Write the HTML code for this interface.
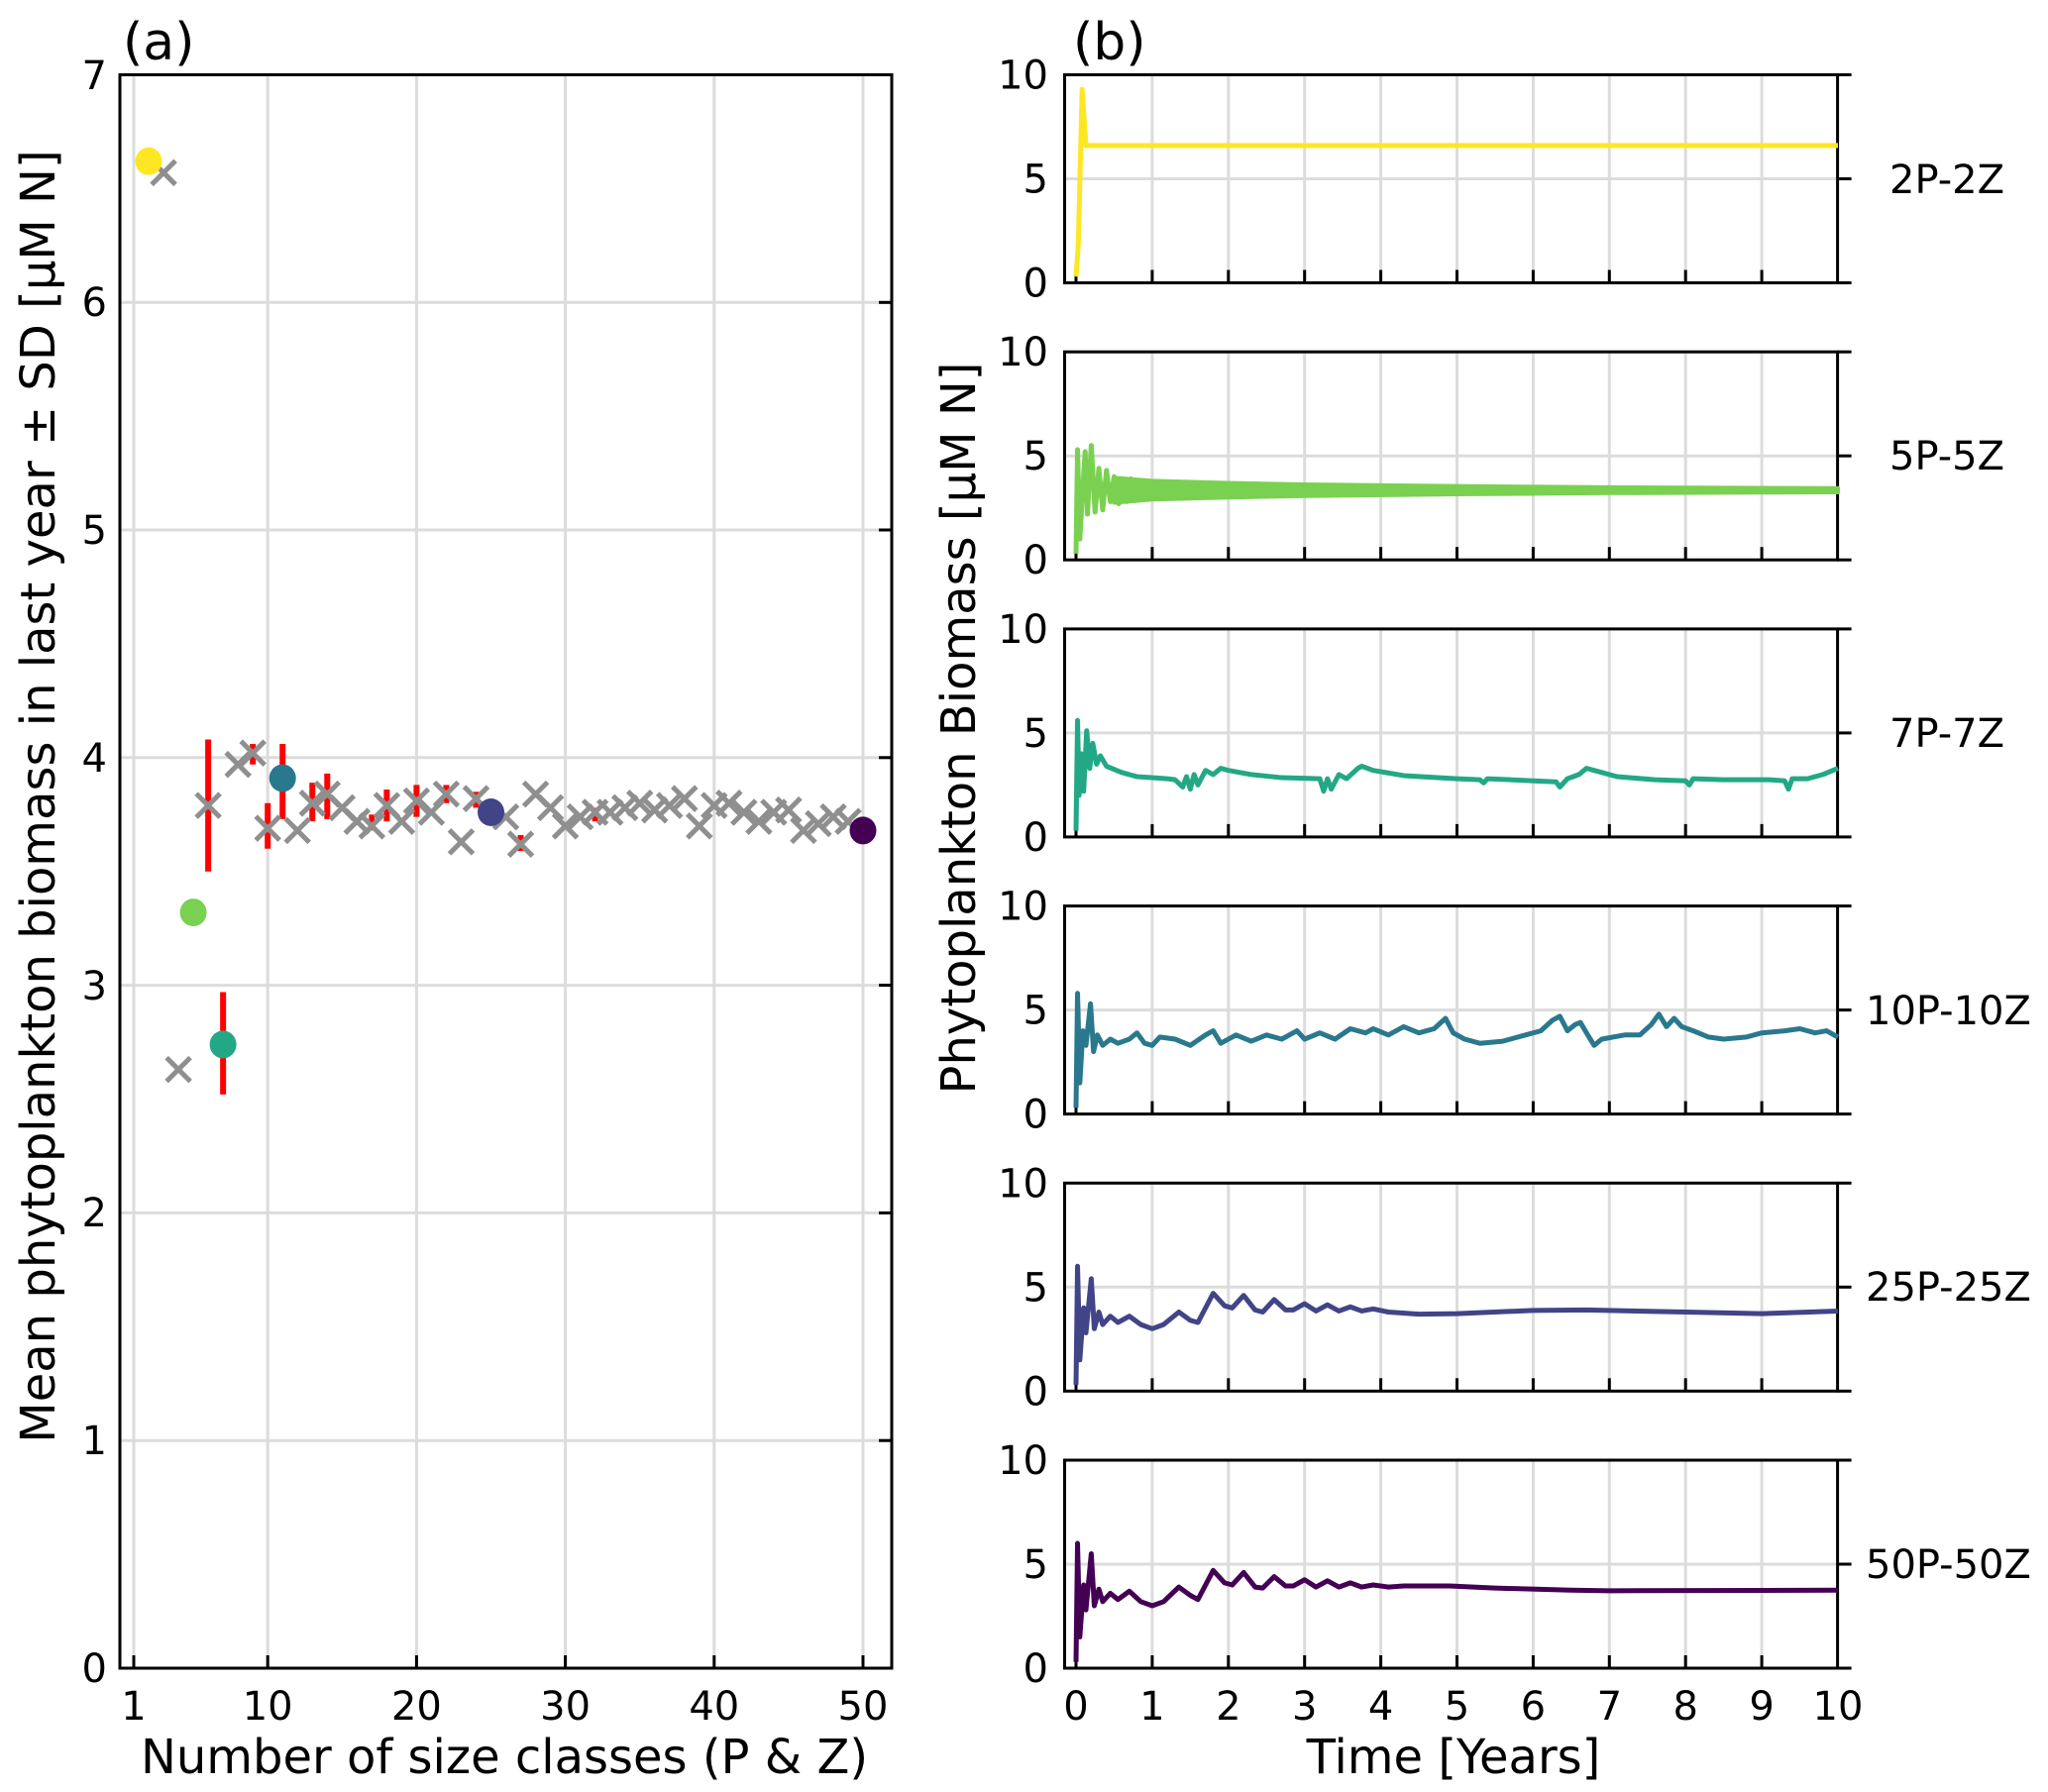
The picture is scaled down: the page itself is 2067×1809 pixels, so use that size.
<!DOCTYPE html>
<html><head><meta charset="utf-8"><style>
html,body{margin:0;padding:0;background:#fff}
svg{display:block}
text{font-family:"DejaVu Sans","Liberation Sans",sans-serif;fill:#000}
.n{vector-effect:non-scaling-stroke;fill:none;stroke-linejoin:round}
</style></head><body>
<svg width="2067" height="1809" viewBox="0 0 2067 1809" xmlns="http://www.w3.org/2000/svg" xmlns:xlink="http://www.w3.org/1999/xlink">
<defs>
<path id="xm" d="M-12 -12L12 12M-12 12L12 -12"/>
<g id="frame">
<g stroke="#dcdcdc" stroke-width="3">
<line x1="1162.9" y1="0" x2="1162.9" y2="210"/><line x1="1239.8" y1="0" x2="1239.8" y2="210"/><line x1="1316.7" y1="0" x2="1316.7" y2="210"/><line x1="1393.6" y1="0" x2="1393.6" y2="210"/><line x1="1470.5" y1="0" x2="1470.5" y2="210"/><line x1="1547.4" y1="0" x2="1547.4" y2="210"/><line x1="1624.3" y1="0" x2="1624.3" y2="210"/><line x1="1701.2" y1="0" x2="1701.2" y2="210"/><line x1="1778.1" y1="0" x2="1778.1" y2="210"/>
<line x1="1074.5" y1="105" x2="1854.6" y2="105"/>
</g>
<g stroke="#000" stroke-width="3">
<line x1="1086" y1="210" x2="1086" y2="197"/><line x1="1162.9" y1="210" x2="1162.9" y2="197"/><line x1="1239.8" y1="210" x2="1239.8" y2="197"/><line x1="1316.7" y1="210" x2="1316.7" y2="197"/><line x1="1393.6" y1="210" x2="1393.6" y2="197"/><line x1="1470.5" y1="210" x2="1470.5" y2="197"/><line x1="1547.4" y1="210" x2="1547.4" y2="197"/><line x1="1624.3" y1="210" x2="1624.3" y2="197"/><line x1="1701.2" y1="210" x2="1701.2" y2="197"/><line x1="1778.1" y1="210" x2="1778.1" y2="197"/>
<line x1="1854.6" y1="0" x2="1868.6" y2="0"/><line x1="1854.6" y1="105" x2="1868.6" y2="105"/><line x1="1854.6" y1="210" x2="1868.6" y2="210"/>
</g>
<text x="1058" y="14" font-size="40" text-anchor="end">10</text>
<text x="1058" y="119" font-size="40" text-anchor="end">5</text>
<text x="1058" y="224" font-size="40" text-anchor="end">0</text>
<rect x="1074.5" y="0" width="780.1" height="210" fill="none" stroke="#000" stroke-width="3"/>
</g>
</defs>

<!-- Panel a grid -->
<g stroke="#dcdcdc" stroke-width="3">
<line x1="135" y1="75.5" x2="135" y2="1684"/><line x1="270.2" y1="75.5" x2="270.2" y2="1684"/><line x1="420.4" y1="75.5" x2="420.4" y2="1684"/><line x1="570.6" y1="75.5" x2="570.6" y2="1684"/><line x1="720.8" y1="75.5" x2="720.8" y2="1684"/><line x1="871" y1="75.5" x2="871" y2="1684"/>
<line x1="121" y1="1454.2" x2="900" y2="1454.2"/><line x1="121" y1="1224.4" x2="900" y2="1224.4"/><line x1="121" y1="994.6" x2="900" y2="994.6"/><line x1="121" y1="764.8" x2="900" y2="764.8"/><line x1="121" y1="535" x2="900" y2="535"/><line x1="121" y1="305.3" x2="900" y2="305.3"/>
</g>
<g stroke="#000" stroke-width="3">
<line x1="135" y1="1684" x2="135" y2="1671"/><line x1="270.2" y1="1684" x2="270.2" y2="1671"/><line x1="420.4" y1="1684" x2="420.4" y2="1671"/><line x1="570.6" y1="1684" x2="570.6" y2="1671"/><line x1="720.8" y1="1684" x2="720.8" y2="1671"/><line x1="871" y1="1684" x2="871" y2="1671"/>
<line x1="900" y1="1454.2" x2="887" y2="1454.2"/><line x1="900" y1="1224.4" x2="887" y2="1224.4"/><line x1="900" y1="994.6" x2="887" y2="994.6"/><line x1="900" y1="764.8" x2="887" y2="764.8"/><line x1="900" y1="535" x2="887" y2="535"/><line x1="900" y1="305.3" x2="887" y2="305.3"/>
</g>
<g font-size="40" text-anchor="end">
<text x="108" y="1698">0</text><text x="108" y="1468">1</text><text x="108" y="1238">2</text><text x="108" y="1009">3</text><text x="108" y="779">4</text><text x="108" y="549">5</text><text x="108" y="319">6</text><text x="108" y="90">7</text>
</g>
<g font-size="40" text-anchor="middle">
<text x="135" y="1736">1</text><text x="270.2" y="1736">10</text><text x="420.4" y="1736">20</text><text x="570.6" y="1736">30</text><text x="720.8" y="1736">40</text><text x="871" y="1736">50</text>
</g>

<!-- Panel a data: error bars -->
<g transform="translate(120 1684) scale(15.02 -229.79)">
<g stroke="#ff0000" stroke-width="6">
<line class="n" x1="6" y1="3.50" x2="6" y2="4.08"/><line class="n" x1="7" y1="2.52" x2="7" y2="2.97"/><line class="n" x1="9" y1="3.97" x2="9" y2="4.06"/><line class="n" x1="10" y1="3.60" x2="10" y2="3.80"/><line class="n" x1="11" y1="3.73" x2="11" y2="4.06"/><line class="n" x1="13" y1="3.72" x2="13" y2="3.89"/><line class="n" x1="14" y1="3.73" x2="14" y2="3.93"/><line class="n" x1="17" y1="3.68" x2="17" y2="3.75"/><line class="n" x1="18" y1="3.72" x2="18" y2="3.86"/><line class="n" x1="20" y1="3.74" x2="20" y2="3.88"/><line class="n" x1="22" y1="3.80" x2="22" y2="3.88"/><line class="n" x1="24" y1="3.78" x2="24" y2="3.85"/><line class="n" x1="27" y1="3.59" x2="27" y2="3.66"/><line class="n" x1="32" y1="3.72" x2="32" y2="3.78"/>
</g>
</g>
<!-- X markers (pixel coords) -->
<g stroke="#8f8f8f" stroke-width="5" fill="none">
<use href="#xm" xlink:href="#xm" x="165.1" y="174.3"/>
<use href="#xm" xlink:href="#xm" x="180.1" y="1079.6"/>
<use href="#xm" xlink:href="#xm" x="210.1" y="813.1"/>
<use href="#xm" xlink:href="#xm" x="240.2" y="771.7"/>
<use href="#xm" xlink:href="#xm" x="255.2" y="760.2"/>
<use href="#xm" xlink:href="#xm" x="270.2" y="836.1"/>
<use href="#xm" xlink:href="#xm" x="300.2" y="838.4"/>
<use href="#xm" xlink:href="#xm" x="315.3" y="810.8"/>
<use href="#xm" xlink:href="#xm" x="330.3" y="801.6"/>
<use href="#xm" xlink:href="#xm" x="345.3" y="815.4"/>
<use href="#xm" xlink:href="#xm" x="360.3" y="829.2"/>
<use href="#xm" xlink:href="#xm" x="375.3" y="833.8"/>
<use href="#xm" xlink:href="#xm" x="390.4" y="813.1"/>
<use href="#xm" xlink:href="#xm" x="405.4" y="829.2"/>
<use href="#xm" xlink:href="#xm" x="420.4" y="808.5"/>
<use href="#xm" xlink:href="#xm" x="435.4" y="820.0"/>
<use href="#xm" xlink:href="#xm" x="450.4" y="801.6"/>
<use href="#xm" xlink:href="#xm" x="465.5" y="849.9"/>
<use href="#xm" xlink:href="#xm" x="480.5" y="806.2"/>
<use href="#xm" xlink:href="#xm" x="510.5" y="824.6"/>
<use href="#xm" xlink:href="#xm" x="525.5" y="852.2"/>
<use href="#xm" xlink:href="#xm" x="540.6" y="801.6"/>
<use href="#xm" xlink:href="#xm" x="555.6" y="815.4"/>
<use href="#xm" xlink:href="#xm" x="570.6" y="833.8"/>
<use href="#xm" xlink:href="#xm" x="585.6" y="824.6"/>
<use href="#xm" xlink:href="#xm" x="600.6" y="820.0"/>
<use href="#xm" xlink:href="#xm" x="615.7" y="820.0"/>
<use href="#xm" xlink:href="#xm" x="630.7" y="815.4"/>
<use href="#xm" xlink:href="#xm" x="645.7" y="810.8"/>
<use href="#xm" xlink:href="#xm" x="660.7" y="817.7"/>
<use href="#xm" xlink:href="#xm" x="675.7" y="813.1"/>
<use href="#xm" xlink:href="#xm" x="690.8" y="806.2"/>
<use href="#xm" xlink:href="#xm" x="705.8" y="833.8"/>
<use href="#xm" xlink:href="#xm" x="720.8" y="813.1"/>
<use href="#xm" xlink:href="#xm" x="735.8" y="810.8"/>
<use href="#xm" xlink:href="#xm" x="750.8" y="820.0"/>
<use href="#xm" xlink:href="#xm" x="765.9" y="829.2"/>
<use href="#xm" xlink:href="#xm" x="780.9" y="820.0"/>
<use href="#xm" xlink:href="#xm" x="795.9" y="817.7"/>
<use href="#xm" xlink:href="#xm" x="810.9" y="838.4"/>
<use href="#xm" xlink:href="#xm" x="825.9" y="831.5"/>
<use href="#xm" xlink:href="#xm" x="841.0" y="824.6"/>
<use href="#xm" xlink:href="#xm" x="856.0" y="829.2"/>
</g>
<g>
<ellipse cx="150.0" cy="162.8" rx="13.5" ry="14" fill="#fde725"/>
<ellipse cx="195.1" cy="921.1" rx="13.5" ry="14" fill="#7ad151"/>
<ellipse cx="225.1" cy="1054.4" rx="13.5" ry="14" fill="#22a884"/>
<ellipse cx="285.2" cy="785.5" rx="13.5" ry="14" fill="#2a788e"/>
<ellipse cx="495.5" cy="820.0" rx="13.5" ry="14" fill="#414487"/>
<ellipse cx="871.0" cy="838.4" rx="13.5" ry="14" fill="#440154"/>
</g>
<rect x="121" y="75.5" width="779" height="1608.5" fill="none" stroke="#000" stroke-width="3"/>

<!-- Panel b frames -->
<use xlink:href="#frame" href="#frame" x="0" y="75.5"/>
<use xlink:href="#frame" href="#frame" x="0" y="355.2"/>
<use xlink:href="#frame" href="#frame" x="0" y="634.9"/>
<use xlink:href="#frame" href="#frame" x="0" y="914.6"/>
<use xlink:href="#frame" href="#frame" x="0" y="1194.3"/>
<use xlink:href="#frame" href="#frame" x="0" y="1474"/>
<g font-size="40">
<text x="1907" y="195">2P-2Z</text><text x="1907" y="474">5P-5Z</text><text x="1907" y="754">7P-7Z</text><text x="1883" y="1034">10P-10Z</text><text x="1883" y="1313">25P-25Z</text><text x="1883" y="1593">50P-50Z</text>
</g>
<g font-size="40" text-anchor="middle">
<text x="1086" y="1736">0</text><text x="1162.9" y="1736">1</text><text x="1239.8" y="1736">2</text><text x="1316.7" y="1736">3</text><text x="1393.6" y="1736">4</text><text x="1470.5" y="1736">5</text><text x="1547.4" y="1736">6</text><text x="1624.3" y="1736">7</text><text x="1701.2" y="1736">8</text><text x="1778.1" y="1736">9</text><text x="1855" y="1736">10</text>
</g>

<!-- Panel b series -->
<g transform="translate(1086 285.5) scale(76.9 -21)">
<polyline class="n" stroke="#fde725" stroke-width="5" points="0,0.3 0.03,1.8 0.08,9.3 0.13,6.6 10,6.6"/>
</g>
<g transform="translate(1086 565.2) scale(76.9 -21)">
<polygon class="n" style="fill:#7ad151" stroke="#7ad151" stroke-width="4" points="0.5,3.95 1,3.8 2,3.7 3,3.63 5,3.55 7,3.49 10,3.45 10,3.25 7,3.21 5,3.15 3,3.07 2,3.0 1,2.9 0.5,2.75"/>
<polyline class="n" stroke="#7ad151" stroke-width="5" points="0,0.3 0.02,5.3 0.05,1.0 0.09,3.5 0.12,5.2 0.15,2.2 0.2,5.5 0.25,2.3 0.3,4.4 0.35,2.4 0.4,4.3 0.45,2.8 0.5,4.0 0.56,2.7 0.61,3.9 0.67,2.8 0.72,3.9 0.78,2.85 0.83,3.8 0.89,2.9"/>
</g>
<g transform="translate(1086 844.9) scale(76.9 -21)">
<polyline class="n" stroke="#22a884" stroke-width="5" points="0,0.3 0.02,5.6 0.04,2 0.07,4 0.1,2.2 0.14,5.1 0.18,3.3 0.22,4.5 0.27,3.5 0.32,3.9 0.4,3.4 0.6,3.1 0.8,2.9 1.2,2.8 1.3,2.75 1.4,2.4 1.45,2.9 1.5,2.3 1.55,3.0 1.6,2.5 1.7,3.2 1.8,3.0 1.9,3.3 2.0,3.2 2.3,3.0 2.7,2.85 3.2,2.8 3.25,2.2 3.3,2.8 3.35,2.3 3.45,3.0 3.55,2.8 3.7,3.3 3.75,3.4 3.9,3.2 4.3,2.95 5,2.8 5.3,2.75 5.35,2.6 5.4,2.8 6,2.7 6.3,2.65 6.35,2.4 6.45,2.8 6.6,3.0 6.7,3.3 6.8,3.2 7.1,2.9 7.6,2.75 8,2.7 8.05,2.5 8.1,2.8 8.5,2.75 9.1,2.75 9.3,2.7 9.35,2.3 9.4,2.8 9.6,2.8 9.8,3.0 10,3.3"/>
</g>
<g transform="translate(1086 1124.6) scale(76.9 -21)">
<polyline class="n" stroke="#2a788e" stroke-width="5" points="0,0.3 0.02,5.8 0.05,1.5 0.09,4 0.13,3.3 0.19,5.3 0.23,3.0 0.28,3.8 0.35,3.3 0.45,3.6 0.55,3.4 0.7,3.6 0.8,3.9 0.9,3.4 1.0,3.3 1.1,3.7 1.3,3.6 1.5,3.3 1.7,3.8 1.8,4.0 1.9,3.4 2.1,3.8 2.3,3.5 2.5,3.8 2.7,3.6 2.9,4.0 3.0,3.6 3.2,3.9 3.4,3.6 3.6,4.1 3.8,3.9 3.9,4.1 4.1,3.8 4.3,4.2 4.5,3.9 4.7,4.1 4.85,4.6 4.95,3.9 5.1,3.6 5.3,3.4 5.6,3.5 5.9,3.8 6.1,4.0 6.25,4.5 6.35,4.7 6.45,4.0 6.55,4.3 6.62,4.4 6.7,3.9 6.8,3.3 6.9,3.6 7.2,3.8 7.4,3.8 7.55,4.3 7.65,4.8 7.75,4.2 7.85,4.6 7.95,4.2 8.1,4.0 8.3,3.7 8.5,3.6 8.8,3.7 9.0,3.9 9.3,4.0 9.5,4.1 9.7,3.9 9.85,4.0 10,3.7"/>
</g>
<g transform="translate(1086 1404.3) scale(76.9 -21)">
<polyline class="n" stroke="#414487" stroke-width="5" points="0,0.3 0.02,6.0 0.05,1.5 0.1,4.0 0.13,2.8 0.2,5.4 0.24,3.0 0.3,3.8 0.35,3.2 0.45,3.6 0.55,3.3 0.7,3.6 0.85,3.2 1.0,3.0 1.15,3.2 1.35,3.8 1.5,3.4 1.6,3.3 1.8,4.7 1.95,4.1 2.05,4.0 2.2,4.6 2.35,3.9 2.45,3.8 2.6,4.4 2.75,3.9 2.85,3.9 3.0,4.2 3.15,3.85 3.3,4.15 3.45,3.85 3.6,4.05 3.75,3.85 3.9,3.95 4.1,3.8 4.5,3.7 5,3.72 6,3.88 6.7,3.9 8,3.8 9,3.72 10,3.85"/>
</g>
<g transform="translate(1086 1684) scale(76.9 -21)">
<polyline class="n" stroke="#440154" stroke-width="5" points="0,0.3 0.02,6.0 0.05,1.5 0.1,4.0 0.13,2.8 0.2,5.5 0.24,3.0 0.3,3.8 0.35,3.2 0.45,3.6 0.55,3.3 0.7,3.7 0.85,3.2 1.0,3.0 1.15,3.2 1.35,3.9 1.5,3.5 1.6,3.3 1.8,4.7 1.95,4.1 2.05,4.0 2.2,4.6 2.35,3.9 2.45,3.85 2.6,4.4 2.75,3.95 2.85,3.95 3.0,4.25 3.15,3.9 3.3,4.2 3.45,3.9 3.6,4.1 3.75,3.9 3.9,4.0 4.1,3.9 4.3,3.95 4.9,3.95 5.5,3.85 6.5,3.75 7,3.72 10,3.75"/>
</g>

<text x="124" y="60" font-size="52">(a)</text>
<text x="1083" y="60" font-size="52">(b)</text>
<text x="509" y="1790" font-size="48" text-anchor="middle">Number of size classes (P &amp; Z)</text>
<text x="1467" y="1790" font-size="48" text-anchor="middle">Time [Years]</text>
<text transform="translate(55,804) rotate(-90)" font-size="48" text-anchor="middle">Mean phytoplankton biomass in last year ± SD [µM N]</text>
<text transform="translate(984,735) rotate(-90)" font-size="48" text-anchor="middle">Phytoplankton Biomass [µM N]</text>
</svg>
</body></html>
